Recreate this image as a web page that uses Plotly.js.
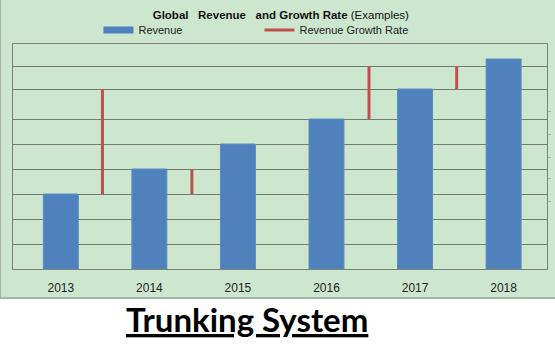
<!DOCTYPE html>
<html>
<head>
<meta charset="utf-8">
<script src="https://cdn.plot.ly/plotly-3.0.1.min.js"></script>
<style>html,body{margin:0;padding:0;background:#fff;}#chart{width:555px;height:353px;}</style>
</head>
<body>
<div id="chart"></div>
<script>
// ---- data ----
const years = ['2013', '2014', '2015', '2016', '2017', '2018'];
const revenue = [3, 4, 5, 6, 7.2, 8.4];
// growth-rate segments drawn between bars (position index, low, high)
const growthPos = [0.47, 1.48, 3.48, 4.47];
const growthLow = [3, 3, 6, 7.2];
const growthHigh = [7.2, 4, 8.1, 8.1];
const gridVals = [1, 2, 3, 4, 5, 6, 7.2, 8.1];
const rightTicks = [2.72, 3.64, 4.48, 5.4, 6.32];

const idx = years.map((_, i) => i);
const gx = [], gy = [];
growthPos.forEach((p, i) => { gx.push(p, p, null); gy.push(growthLow[i], growthHigh[i], null); });

const narrow = '"Liberation Sans Narrow", "Arial Narrow", "Liberation Sans", Arial, sans-serif';

const traces = [
  { type: 'bar', x: idx, y: revenue, width: 0.395, name: 'Revenue', showlegend: false,
    marker: { color: '#4f81bd', line: { color: '#5b8cc4', width: 1 } }, hoverinfo: 'x+y' },
  { type: 'scatter', mode: 'lines', x: [null], y: [null], name: 'Revenue',
    line: { color: '#4f81bd', width: 7 } },
  { type: 'scatter', mode: 'lines', x: gx, y: gy, yaxis: 'y2', name: 'Revenue Growth Rate',
    line: { color: '#c0504d', width: 3 }, connectgaps: false }
];

const layout = {
  width: 555, height: 353,
  margin: { l: 13, r: 8, t: 44, b: 84 },
  paper_bgcolor: '#ffffff',
  plot_bgcolor: 'rgba(0,0,0,0)',
  font: { family: narrow, size: 12, color: '#222' },
  title: {
    text: '<b>Global&nbsp;&nbsp; Revenue&nbsp;&nbsp; and Growth Rate</b> (Examples)',
    x: 0.506, xanchor: 'center', y: 0.957, yanchor: 'middle', yref: 'container',
    font: { family: narrow, size: 11.5, color: '#111' }
  },
  showlegend: true,
  legend: {
    orientation: 'h', x: 0.16, xanchor: 'left', y: 1.062, yanchor: 'middle',
    entrywidth: 116, entrywidthmode: 'pixels', bgcolor: 'rgba(0,0,0,0)',
    font: { family: narrow, size: 11, color: '#222' }, traceorder: 'normal'
  },
  xaxis: {
    type: 'linear', range: [-0.54, 5.49], tickmode: 'array', tickvals: idx, ticktext: years,
    showgrid: false, zeroline: false, showline: true, mirror: true, linecolor: '#7a7f7a', linewidth: 1,
    ticks: '', ticklabelstandoff: 8, tickfont: { family: narrow, size: 12, color: '#222' }, fixedrange: true
  },
  yaxis: {
    range: [0, 9], tickmode: 'array', tickvals: gridVals, showticklabels: false,
    showgrid: true, gridcolor: '#747a74', gridwidth: 1, zeroline: false,
    showline: true, mirror: true, linecolor: '#7a7f7a', linewidth: 1, ticks: '', fixedrange: true
  },
  yaxis2: {
    overlaying: 'y', side: 'right', range: [0, 9], tickmode: 'array', tickvals: rightTicks,
    showticklabels: false, ticks: 'outside', ticklen: 3, tickcolor: '#a8b0a8',
    showgrid: false, zeroline: false, showline: false, fixedrange: true
  },
  shapes: [
    { type: 'rect', xref: 'paper', yref: 'paper', layer: 'below',
      x0: -0.0243, x1: 1.04, y0: -0.129, y1: 1.21,
      fillcolor: '#cde7cf', line: { color: '#a4b4a4', width: 2 } }
  ],
  annotations: [
    { xref: 'paper', yref: 'paper', x: 0.439, y: -0.224, xanchor: 'center', yanchor: 'middle',
      showarrow: false, text: '<b><u>Trunking System</u></b>',
      font: { family: 'Lato, "Open Sans", sans-serif', size: 33, color: '#000' } }
  ]
};

Plotly.newPlot('chart', traces, layout, { displayModeBar: false, staticPlot: true });
</script>
</body>
</html>
